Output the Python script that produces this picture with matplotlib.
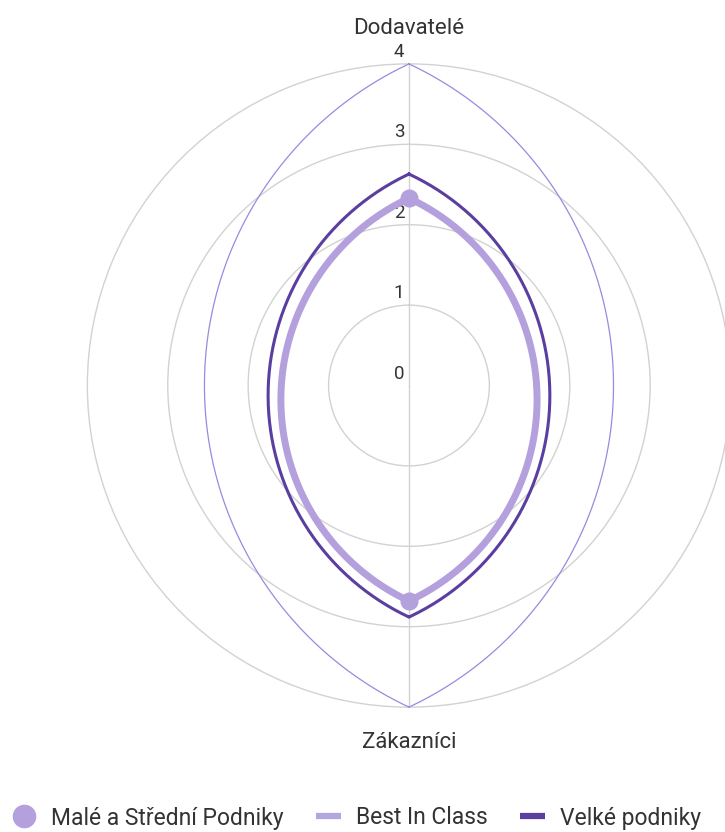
import matplotlib
matplotlib.use("Agg")
import matplotlib.pyplot as plt
from matplotlib.lines import Line2D
import numpy as np

plt.rcParams['font.family'] = ['Roboto', 'DejaVu Sans']

# data
categories = ['Dodavatelé', 'Zákazníci']
series_names = ['Malé a Střední Podniky', 'Best In Class', 'Velké podniky']
male_stredni = [2.33, 2.68]
best_in_class = [4.0, 4.0]
velke = [2.63, 2.88]
r_ticks = [0, 1, 2, 3, 4]

c_light = '#b3a0dd'
c_best = '#9c88e0'
c_dark = '#5a3ea0'
c_grid = '#d2d2d2'
c_text = '#333333'


def lens(top, bottom, bulge=0.318, n=200):
    # smoothed closed line through the two axis values (top & bottom),
    # drawn as two circular arcs like the original renderer does
    h = (top + bottom) / 2.0
    my = (top - bottom) / 2.0
    s = bulge * (top + bottom)
    R = (h * h + s * s) / (2 * s)
    cx = s - R
    phi0 = np.arcsin(h / R)
    phi = np.linspace(phi0, -phi0, n)
    xr = cx + R * np.cos(phi)
    yr = my + R * np.sin(phi)
    x = np.concatenate([xr, -xr[::-1]])
    y = np.concatenate([yr, yr[::-1]])
    theta = np.arctan2(x, y)
    r = np.hypot(x, y)
    return theta, r


fig = plt.figure(figsize=(7.25, 8.32), dpi=100)
ax = fig.add_axes([0.1205, 0.1501, 0.8872, 0.7731], projection='polar')
ax.set_theta_zero_location('N')
ax.set_theta_direction(-1)
ax.set_ylim(0, 4)

ax.set_rgrids([1, 2, 3], labels=['', '', ''])
ax.set_thetagrids([0, 180], labels=['', ''])
ax.grid(True, color=c_grid, linewidth=1.0)
ax.spines['polar'].set_color(c_grid)
ax.spines['polar'].set_linewidth(1.0)
ax.tick_params(axis='both', length=0)

th, rr = lens(best_in_class[0], best_in_class[1])
ax.plot(th, rr, color=c_best, linewidth=0.9, clip_on=False, zorder=3)
th, rr = lens(velke[0], velke[1])
ax.plot(th, rr, color=c_dark, linewidth=2.2, clip_on=False, zorder=4)
th, rr = lens(male_stredni[0], male_stredni[1])
ax.plot(th, rr, color=c_light, linewidth=5.0, clip_on=False, zorder=5)
ax.plot([0, np.pi], male_stredni, linestyle='none', marker='o', markersize=12,
        color=c_light, zorder=6, clip_on=False)

# radial tick labels on the vertical axis
for v in r_ticks:
    ax.annotate(str(v), xy=(0, v), xytext=(-10, 12), textcoords='offset pixels',
                ha='center', va='center', fontsize=13.5, color=c_text)

# category labels
ax.annotate(categories[0], xy=(0, 4), xytext=(0, 35), textcoords='offset pixels',
            ha='center', va='center', fontsize=16, color=c_text, annotation_clip=False)
ax.annotate(categories[1], xy=(np.pi, 4), xytext=(0, -35), textcoords='offset pixels',
            ha='center', va='center', fontsize=16, color=c_text, annotation_clip=False)

handles = [
    Line2D([], [], linestyle='none', marker='o', markersize=16, color=c_light),
    Line2D([], [], color='#b3a5e2', linewidth=4.5, solid_capstyle='butt'),
    Line2D([], [], color=c_dark, linewidth=4.5, solid_capstyle='butt'),
]
fig.legend(handles, series_names, loc='center left', bbox_to_anchor=(11 / 725, 1 - 818 / 832),
           ncol=3, frameon=False, fontsize=16.5, handlelength=1.1, handletextpad=0.65,
           columnspacing=1.4, labelcolor=c_text, borderpad=0, borderaxespad=0)

fig.savefig('out.png', dpi=100)
